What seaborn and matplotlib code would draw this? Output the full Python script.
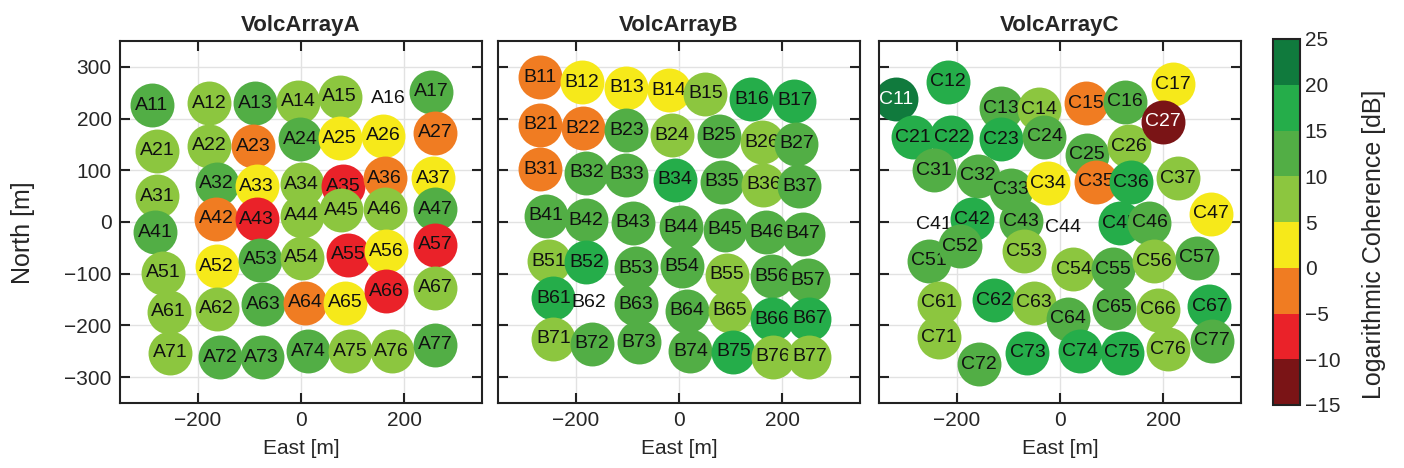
import numpy as np
import pandas as pd
import matplotlib
matplotlib.use('Agg')
import matplotlib.pyplot as plt
import matplotlib.colors as mcolors
import seaborn as sns

nan = np.nan

# station positions [m] and coherence [dB], row-major (rows 1..7, cols 1..7)
a_east = [-288, -177, -89, -6, 75, 168, 252,
          -278, -177, -92, -2, 75, 159, 259,
          -278, -163, -86, 1, 82, 162, 255,
          -282, -164, -86, 1, 78, 162, 259,
          -266, -163, -79, 1, 91, 165, 259,
          -256, -163, -73, 8, 85, 165, 259,
          -253, -156, -76, 14, 95, 175, 259]
a_north = [226, 230, 230, 233, 242, 239, 252,
           138, 147, 146, 160, 162, 167, 173,
           50, 74, 69, 73, 69, 85, 85,
           -20, 6, 5, 12, 23, 25, 25,
           -98, -86, -73, -69, -63, -57, -44,
           -174, -168, -159, -156, -156, -134, -127,
           -253, -262, -262, -250, -250, -250, -237]
a_coh = [13, 8, 12, 9, 7, nan, 12,
         8, 8, -2, 12, 3, 2, -3,
         8, 12, 3, 8, -7, -3, 2,
         12, -3, -8, 8, 8, 7, 12,
         7, 2, 12, 8, -7, 3, -7,
         7, 8, 12, -2, 3, -8, 8,
         7, 11, 11, 12, 9, 9, 12]

b_east = [-268, -188, -102, -19, 51, 140, 223,
          -268, -186, -102, -13, 77, 160, 227,
          -268, -179, -102, -8, 83, 163, 233,
          -258, -180, -89, 3, 89, 169, 239,
          -252, -179, -83, 6, 93, 179, 249,
          -243, -175, -83, 16, 99, 179, 252,
          -243, -169, -77, 22, 105, 182, 252]
b_north = [280, 270, 260, 255, 248, 237, 234,
           188, 181, 177, 168, 167, 154, 151,
           102, 95, 91, 82, 78, 72, 69,
           12, 3, -1, -10, -15, -20, -23,
           -76, -78, -89, -86, -102, -105, -113,
           -147, -156, -159, -172, -172, -188, -187,
           -226, -235, -233, -250, -251, -261, -261]
b_coh = [-3, 2, 3, 3, 8, 16, 16,
         -3, -3, 12, 9, 12, 8, 11,
         -3, 11, 11, 17, 11, 8, 11,
         11, 11, 11, 11, 11, 11, 11,
         8, 16, 11, 11, 8, 11, 11,
         16, nan, 11, 11, 8, 16, 16,
         8, 11, 11, 11, 16, 8, 8]

c_east = [-317, -216, -115, -40, 50, 126, 218,
          -285, -210, -115, -30, 52, 134, 199,
          -243, -159, -95, -23, 70, 137, 228,
          -243, -171, -75, 5, 116, 173, 292,
          -253, -193, -69, 26, 102, 181, 265,
          -234, -127, -51, 16, 105, 189, 289,
          -234, -156, -63, 39, 119, 208, 294]
c_north = [237, 271, 220, 218, 230, 233, 266,
           164, 164, 160, 165, 130, 146, 194,
           100, 89, 62, 75, 78, 77, 85,
           -5, 5, 1, -10, -2, -1, 16,
           -75, -47, -57, -91, -91, -76, -69,
           -156, -151, -156, -187, -166, -170, -163,
           -223, -275, -253, -250, -253, -246, -230]
c_coh = [22, 17, 12, 8, -3, 12, 2,
         17, 17, 17, 12, 12, 8, -12,
         11, 12, 12, 3, -3, 17, 8,
         nan, 17, 12, nan, 17, 12, 2,
         12, 12, 8, 8, 12, 8, 12,
         8, 17, 8, 12, 12, 8, 17,
         8, 12, 17, 17, 17, 8, 12]

arrays = ['VolcArrayA', 'VolcArrayB', 'VolcArrayC']
bounds = [-15, -10, -5, 0, 5, 10, 15, 20, 25]
band_colors = ['#7a1416', '#ea2229', '#f07c22', '#f6e91a',
               '#8cc63f', '#52ae45', '#25ad4a', '#107a3d']

sns.set_theme(style='ticks')
plt.rcParams['font.family'] = ['Liberation Sans', 'DejaVu Sans']

cmap = mcolors.ListedColormap(band_colors)
norm = mcolors.BoundaryNorm(bounds, cmap.N)
palette = {str(i): c for i, c in enumerate(band_colors)}

fig = plt.figure(figsize=(14.04, 4.68), dpi=100)
W, H = 1404, 468
lefts = [120, 498, 879]
axes = [fig.add_axes([l / W, (H - 403) / H, 362 / W, 362 / H]) for l in lefts]

data = [(a_east, a_north, a_coh), (b_east, b_north, b_coh), (c_east, c_north, c_coh)]

for k, (ax, (e, n, c)) in enumerate(zip(axes, data)):
    letter = arrays[k][-1]
    names = [f'{letter}{r}{col}' for r in range(1, 8) for col in range(1, 8)]
    df = pd.DataFrame({'name': names, 'east': e, 'north': n, 'coh': c})
    df['band'] = [str(int(np.digitize(v, bounds[1:-1]))) if not np.isnan(v) else None
                  for v in df['coh']]

    # one station at a time so later circles cover earlier labels, as in the original
    for i, row in df.iterrows():
        z = 1 + i * 0.01
        if row['band'] is None:
            ax.text(row['east'], row['north'], row['name'], ha='center', va='center',
                    fontsize=14, color='#111111', zorder=z + 0.005)
            continue
        sns.scatterplot(data=df.iloc[[i]], x='east', y='north', hue='band',
                        palette=palette, s=1000, linewidth=0, legend=False,
                        ax=ax, zorder=z)
        tc = 'white' if row['band'] in ('0', '7') else '#111111'
        ax.text(row['east'], row['north'], row['name'], ha='center', va='center',
                fontsize=14, color=tc, zorder=z + 0.005)

    ax.set_xlim(-350, 350)
    ax.set_ylim(-350, 350)
    ax.set_xticks([-200, 0, 200])
    ax.set_yticks([-300, -200, -100, 0, 100, 200, 300])
    ax.grid(True, color='#e2e2e2', linewidth=1)
    ax.set_axisbelow(True)
    ax.tick_params(direction='in', length=7, width=1.5, top=True, right=True,
                   labelsize=15, color='#222222', pad=6)
    for sp in ax.spines.values():
        sp.set_linewidth(1.5)
        sp.set_color('#222222')
        sp.set_zorder(3)
    ax.set_title(arrays[k], fontweight='bold', fontsize=16, pad=7)
    ax.set_xlabel('East [m]', fontsize=15, labelpad=6)
    if k == 0:
        ax.set_ylabel('North [m]', fontsize=18)
        ax.yaxis.set_label_coords(-0.235, 0.47)
    else:
        ax.set_ylabel('')
        ax.tick_params(labelleft=False)

cax = fig.add_axes([1273 / W, (H - 405) / H, 27 / W, 366 / H])
sm = plt.cm.ScalarMappable(norm=norm, cmap=cmap)
cb = fig.colorbar(sm, cax=cax, ticks=list(range(-15, 30, 5)))
cb.outline.set_linewidth(1.5)
cb.outline.set_edgecolor('#222222')
cax.tick_params(direction='in', length=4, width=1.2, labelsize=15, color='#222222')
cb.set_label('Logarithmic Coherence [dB]', fontsize=18)
cax.yaxis.set_label_coords(3.3, 0.44)

fig.savefig('out.png', dpi=100)
